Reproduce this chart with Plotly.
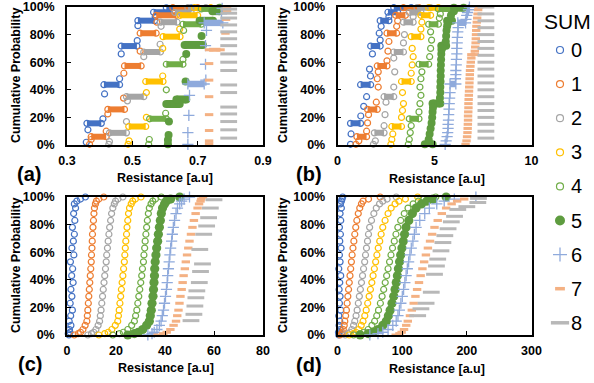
import plotly.graph_objects as go

# ---------------- data ----------------
SERIES = ["0", "1", "2", "3", "4", "5", "6", "7", "8"]

# Panel (a): isolated points (resistance, cumulative %) and flat runs [x_start, x_end, cumulative %]
A0_X = [0.359, 0.364, 0.410, 0.415, 0.461, 0.466, 0.515, 0.517, 0.570]
A0_Y = [2, 11, 19, 37, 48, 66, 75.6, 86.5, 93]
A0_RUNS = [[0.361, 0.405, 15.7], [0.413, 0.461, 43.7], [0.466, 0.514, 71.7], [0.517, 0.568, 90.1], [0.565, 0.624, 96.2], [0.604, 0.680, 99.4]]
A1_X = [0.369, 0.374, 0.420, 0.425, 0.473, 0.474, 0.524, 0.575]
A1_Y = [0.5, 4, 10, 22.5, 34, 52, 68, 89]
A1_RUNS = [[0.374, 0.420, 6.0], [0.425, 0.476, 25.8], [0.476, 0.527, 57.3], [0.524, 0.573, 81.0], [0.573, 0.635, 94.0], [0.624, 0.700, 99.5]]
A2_X = [0.428, 0.430, 0.482, 0.485, 0.535, 0.585, 0.588]
A2_Y = [0.5, 2.5, 17, 32, 64, 73, 86]
A2_RUNS = [[0.430, 0.482, 8.8], [0.482, 0.535, 35.0], [0.535, 0.586, 67.4], [0.586, 0.637, 89.0], [0.630, 0.680, 96.0], [0.670, 0.725, 99.5]]
A3_X = [0.487, 0.490, 0.543, 0.543, 0.593, 0.593, 0.645]
A3_Y = [0.5, 3, 20, 38, 50, 70, 84]
A3_RUNS = [[0.489, 0.541, 13.4], [0.541, 0.594, 46.0], [0.594, 0.646, 78.5], [0.646, 0.700, 94.0], [0.690, 0.740, 99.5]]
A4_X = [0.550, 0.552, 0.602, 0.604, 0.655, 0.657]
A4_Y = [0.5, 4, 23, 40, 62, 83]
A4_RUNS = [[0.553, 0.604, 19.0], [0.604, 0.655, 58.5], [0.655, 0.711, 87.5], [0.711, 0.767, 98.6]]
A5_X = [0.609, 0.609, 0.611, 0.612, 0.663, 0.665, 0.712, 0.767]
A5_Y = [0.5, 3.7, 7.3, 17, 46, 66, 79, 99.5]
A5_RUNS = [[0.604, 0.645, 29.7], [0.635, 0.665, 33.0], [0.660, 0.716, 72.5], [0.706, 0.747, 90.0], [0.745, 0.767, 97.0]]
A6_X = [0.670, 0.670, 0.673, 0.675, 0.725, 0.724, 0.724, 0.727, 0.773, 0.775]
A6_Y = [0.5, 9, 21.5, 36, 47, 58.5, 72, 83, 95, 99]
A6_RUNS = [[0.670, 0.720, 44.2], [0.720, 0.777, 88.5]]
A7_X = [0.735, 0.735, 0.735, 0.735, 0.735, 0.735, 0.735, 0.785, 0.787, 0.790, 0.790]
A7_Y = [1, 3, 10.5, 22, 35, 47, 59, 81, 91, 97, 100]
A7_RUNS = [[0.735, 0.770, 69.0]]
A8_X = [0.795, 0.795, 0.795, 0.795, 0.795, 0.795, 0.795, 0.795, 0.795, 0.795, 0.795, 0.795, 0.795, 0.795, 0.795, 0.795, 0.795]
A8_Y = [5, 11, 17, 22.5, 27.5, 38, 43.5, 54, 60, 66, 72, 77, 82, 87, 92, 95.5, 98.5]

# Panel (b)
B0_X = [0.67, 0.70, 1.20, 1.35, 1.50, 1.70, 1.65, 1.80, 2.20, 2.15, 2.25, 2.65]
B0_Y = [0.5, 8, 21, 28, 35, 50, 55, 66, 76, 81, 86, 93]
B0_RUNS = [[0.67, 1.19, 15.7], [1.19, 1.71, 43.7], [1.71, 2.20, 71.7], [2.20, 2.65, 90.1], [2.60, 3.10, 96.2], [2.90, 3.80, 99.5]]
B1_X = [0.95, 1.10, 1.50, 1.55, 1.60, 2.00, 2.10, 2.05, 2.10, 2.55, 2.60, 2.65, 3.05, 3.10]
B1_Y = [0.5, 3, 10, 16, 22, 31, 42, 48, 53, 61, 68, 75, 86, 90]
B1_RUNS = [[1.00, 1.50, 6.0], [1.55, 2.05, 25.8], [2.05, 2.55, 57.3], [2.55, 3.05, 81.0], [3.00, 3.50, 94.0], [3.40, 4.20, 99.5]]
B2_X = [1.85, 1.95, 2.40, 2.45, 2.50, 2.90, 2.95, 2.90, 3.40, 3.45, 3.90]
B2_Y = [0.5, 3, 14, 22, 31, 42, 53, 63, 74, 80, 93]
B2_RUNS = [[1.90, 2.40, 8.8], [2.40, 2.90, 35.0], [2.90, 3.40, 67.4], [3.40, 3.90, 89.0], [3.70, 4.30, 96.0], [4.10, 4.80, 99.5]]
B3_X = [2.75, 2.80, 2.85, 3.30, 3.35, 3.40, 3.35, 3.80, 3.85, 3.90, 3.85, 4.30, 4.35]
B3_Y = [0.5, 4, 8, 20, 25, 30, 38, 52, 58, 64, 70, 84, 89]
B3_RUNS = [[2.80, 3.30, 13.4], [3.30, 3.80, 46.0], [3.80, 4.30, 78.5], [4.30, 4.80, 94.0], [4.70, 5.20, 99.5]]
B4_X = [3.65, 3.70, 3.75, 3.80, 4.20, 4.25, 4.30, 4.25, 4.30, 4.35, 4.75, 4.80, 4.85, 4.80, 5.25, 5.30]
B4_Y = [0.5, 4, 9, 14, 24, 30, 36, 42, 48, 53, 64, 70, 76, 82, 92, 95]
B4_RUNS = [[3.70, 4.20, 19.0], [4.20, 4.70, 58.5], [4.70, 5.20, 87.5], [5.20, 5.80, 98.6]]
B5_X = [4.70, 4.75, 4.80, 4.85, 4.88, 4.90, 4.92, 5.28, 5.30, 5.30, 5.31, 5.32, 5.32, 5.33, 5.34, 5.35, 5.36, 5.38, 5.40, 5.58, 5.60, 5.62, 5.65, 5.68, 5.85, 6.00]
B5_Y = [4, 8, 12, 16, 20, 24, 27, 34, 38, 42, 46, 50, 54, 58, 62, 66, 69, 70, 71, 75, 79, 83, 86, 88, 94, 97]
B5_RUNS = [[4.50, 4.90, 0.5], [4.90, 5.30, 30.0], [5.35, 5.60, 72.0], [5.65, 5.90, 90.0], [6.00, 6.50, 99.5]]
B6_X = [5.55, 5.60, 5.65, 5.68, 5.70, 5.70, 5.72, 5.73, 5.75, 5.76, 5.78, 5.80, 6.08, 6.10, 6.10, 6.12, 6.13, 6.15, 6.15, 6.17, 6.18, 6.20, 6.22, 6.62, 6.66, 6.70, 6.75, 6.80]
B6_Y = [0.5, 3, 6, 9, 12, 15, 18, 22, 26, 30, 34, 38, 48, 51, 54, 58, 62, 66, 70, 74, 78, 82, 85, 91, 94, 96, 98, 100]
B6_RUNS = [[5.80, 6.10, 44.2], [6.20, 6.60, 88.5]]
B7_X = [6.60, 6.65, 6.68, 6.70, 6.71, 6.72, 6.73, 6.73, 6.74, 6.75, 6.75, 6.76, 6.77, 6.78, 6.79, 6.80, 6.81, 6.82, 6.83, 6.85, 6.87, 6.90, 7.08, 7.10, 7.12, 7.13, 7.14, 7.15, 7.16, 7.18, 7.20, 7.22, 7.25, 7.30]
B7_Y = [0.5, 3, 6, 9, 12, 15, 18, 21, 24, 27, 30, 33, 36, 39, 42, 45, 48, 51, 54, 57, 60, 63, 68, 71, 74, 77, 80, 83, 86, 89, 92, 95, 98, 100]
B7_RUNS = [[6.90, 7.08, 65.5]]
B8_X = [7.65, 7.65, 7.65, 7.65, 7.65, 7.65, 7.65, 7.65, 7.65, 7.65, 7.65, 7.65, 7.65, 7.65, 7.65, 7.65, 7.65, 7.65, 7.65, 7.65]
B8_Y = [5, 10, 15, 20, 25, 30, 35, 40, 45, 50, 55, 60, 65, 70, 75, 80, 85, 90, 95, 100]

# Panels (c) and (d): cumulative % levels shared by series 0-7
P_CD = [0, 1, 2, 4, 7, 10, 14, 18, 23, 28, 33, 38, 43, 48, 53, 58, 63, 68, 73, 78, 83, 88, 92, 95, 97, 98.5, 100]
C0_X = [0.8, 0.5, 1.2, 1.0, 1.6, 0.9, 1.5, 2.2, 1.3, 2.0, 1.6, 2.5, 1.9, 2.3, 1.4, 2.8, 2.0, 2.6, 3.0, 2.2, 3.2, 2.7, 3.5, 3.0, 4.0, 5.5, 7.5]
C1_X = [3.0, 4.6, 5.5, 6.5, 7.4, 8.1, 8.3, 8.5, 8.7, 8.9, 9.1, 9.3, 9.5, 9.7, 9.9, 10.0, 10.2, 10.3, 10.4, 10.6, 10.8, 11.0, 11.2, 11.6, 12.0, 13.0, 15.0]
C2_X = [8.5, 10.0, 10.9, 11.8, 12.7, 13.3, 13.6, 13.9, 14.2, 14.5, 14.8, 15.1, 15.4, 15.7, 16.0, 16.2, 16.5, 16.8, 17.1, 17.4, 17.8, 18.2, 18.7, 19.3, 19.8, 20.8, 22.8]
C3_X = [13.0, 15.4, 16.8, 18.3, 19.7, 20.7, 21.0, 21.3, 21.6, 21.9, 22.2, 22.5, 22.8, 23.1, 23.4, 23.6, 23.8, 24.0, 24.3, 24.5, 24.8, 25.1, 25.5, 26.2, 26.8, 27.9, 30.2]
C4_X = [18.7, 21.4, 23.0, 24.8, 26.4, 27.5, 28.0, 28.5, 28.9, 29.3, 29.7, 30.1, 30.5, 30.8, 31.2, 31.4, 31.7, 31.9, 32.2, 32.5, 32.8, 33.2, 33.6, 34.3, 35.0, 36.1, 38.5]
C5_X = [24.8, 27.5, 29.1, 30.9, 32.5, 33.6, 34.0, 34.4, 34.7, 35.1, 35.3, 35.5, 35.7, 35.8, 36.0, 36.3, 36.6, 37.0, 37.3, 37.7, 38.1, 38.5, 39.0, 39.8, 40.5, 42.3, 46.0]
C6_X = [33.0, 34.7, 35.6, 36.7, 37.7, 38.4, 38.9, 39.4, 39.8, 40.2, 40.6, 40.9, 41.1, 41.4, 41.7, 42.0, 42.3, 42.7, 43.0, 43.4, 43.9, 44.5, 45.1, 46.0, 46.8, 47.8, 50.0]
C7_X = [37.0, 39.3, 40.7, 42.2, 43.5, 44.5, 45.0, 45.5, 45.9, 46.3, 46.8, 47.2, 47.6, 48.1, 48.5, 49.0, 49.5, 50.0, 50.6, 51.2, 51.8, 52.5, 53.3, 53.9, 54.5, 54.8, 55.5]
C8_X = [50.6, 51.8, 52.2, 52.6, 53.0, 54.0, 54.5, 55.3, 54.2, 55.8, 57.0, 57.8, 58.5, 60.0]
C8_Y = [10.4, 15, 21, 27, 32, 38, 46, 51.5, 62, 73, 79, 85, 92, 98]

D0_X = [2.0, 3.0, 1.5, 4.0, 2.5, 3.5, 2.0, 5.0, 3.0, 4.0, 2.5, 3.5, 5.0, 2.0, 4.0, 3.0, 5.5, 3.5, 4.5, 3.0, 5.0, 4.0, 6.0, 4.5, 6.0, 7.0, 8.0]
D1_X = [4.0, 6.3, 7.6, 9.0, 10.4, 11.3, 12.6, 13.8, 14.9, 16.0, 17.1, 18.2, 19.3, 20.4, 21.5, 22.6, 23.9, 25.3, 26.7, 28.2, 29.9, 32.1, 34.4, 37.0, 39.5, 48.0, 66.0]
D2_X = [12.0, 16.6, 19.2, 22.1, 24.8, 26.7, 28.7, 30.4, 32.2, 33.8, 35.4, 37.1, 38.7, 40.3, 42.0, 43.3, 44.8, 46.4, 47.9, 49.7, 52.6, 56.2, 60.0, 65.0, 70.0, 76.7, 90.8]
D3_X = [18.0, 24.7, 28.5, 32.8, 36.7, 39.5, 42.2, 44.4, 46.7, 48.9, 50.9, 53.1, 55.0, 57.0, 59.0, 60.9, 63.0, 65.3, 67.5, 70.0, 73.6, 78.2, 83.0, 89.0, 95.0, 105.0, 124.0]
D4_X = [25.0, 35.0, 40.9, 47.4, 53.2, 57.4, 60.7, 63.4, 66.3, 69.0, 71.4, 73.8, 76.0, 78.2, 80.5, 82.7, 85.1, 87.8, 90.4, 93.3, 97.7, 103.2, 109.0, 117.0, 125.0, 133.6, 152.0]
D5_X = [35.0, 47.5, 54.8, 62.9, 70.1, 75.4, 78.7, 81.4, 84.3, 87.0, 89.0, 90.9, 92.6, 94.2, 96.0, 97.7, 99.6, 101.7, 103.7, 106.0, 110.3, 115.8, 121.5, 129.8, 138.0, 147.6, 168.0]
D6_X = [50.0, 62.6, 70.0, 78.2, 85.5, 90.8, 93.5, 95.7, 98.0, 100.2, 102.2, 104.2, 106.1, 108.0, 110.0, 112.0, 114.1, 116.6, 118.9, 121.5, 127.2, 134.9, 142.0, 153.5, 165.0, 180.7, 214.0]
D7_X = [90.0, 95.8, 99.2, 102.9, 106.3, 108.7, 112.0, 114.9, 117.8, 120.5, 123.1, 126.0, 128.6, 131.3, 134.0, 136.7, 139.8, 143.1, 146.3, 150.0, 155.0, 161.3, 168.0, 176.5, 185.0, 195.9, 219.0]
D8_X = [124, 129, 137, 145, 150, 153, 155, 160, 163, 166, 171, 176, 181, 186, 200, 217, 218]
D8_Y = [14, 19, 23, 31, 44, 50, 55, 61, 67, 72, 77, 82, 86, 91, 93, 96, 99]

X_TICKS_A = [0.3, 0.5, 0.7, 0.9]
X_TICKS_B = [0, 5, 10]
X_TICKS_C = [0, 20, 40, 60, 80]
X_TICKS_D = [0, 100, 200, 300]
Y_TICKS = [0, 20, 40, 60, 80, 100]

# ---------------- styles ----------------
W, H = 594, 383
COLORS = ["#4472C4", "#ED7D31", "#A5A5A5", "#FFC000", "#70AD47", "#5E9C3F", "#8FAADC", "#F4B183", "#B8B8B8"]
SYMBOLS = ["circle-open"] * 5 + ["circle", "cross-thin-open", "line-ew-open", "line-ew-open"]
SIZES = [6, 6, 6, 6, 6, 8, 8, 6, 12]
LINEW = [1.2, 1.2, 1.2, 1.2, 1.2, 0, 1.3, 3, 3]
RUNW = [6, 6, 6, 6, 6, 8, 6.5, 4, 3]
FONT = "Liberation Sans, Arial, sans-serif"

fig = go.Figure()


def marker(k, scale=1.0):
    c = COLORS[k]
    return dict(symbol=SYMBOLS[k], size=SIZES[k] * scale, color=c,
                line=dict(color=c, width=LINEW[k]))


def add_series(xa, ya, k, xs, ys, runs=None, scale=1.0):
    c = COLORS[k]
    if runs:
        lx, ly = [], []
        for x0, x1, yv in runs:
            lx += [x0, x1, None]
            ly += [yv, yv, None]
        fig.add_trace(go.Scatter(x=lx, y=ly, mode="lines+markers", xaxis=xa, yaxis=ya,
                                 line=dict(color=c, width=RUNW[k]), marker=marker(k, scale),
                                 showlegend=False, cliponaxis=False, hoverinfo="skip"))
    fig.add_trace(go.Scatter(x=xs, y=ys, mode="markers", xaxis=xa, yaxis=ya,
                             marker=marker(k, scale), name=SERIES[k],
                             showlegend=False, cliponaxis=False))


A_DATA = [(A0_X, A0_Y, A0_RUNS), (A1_X, A1_Y, A1_RUNS), (A2_X, A2_Y, A2_RUNS), (A3_X, A3_Y, A3_RUNS),
          (A4_X, A4_Y, A4_RUNS), (A5_X, A5_Y, A5_RUNS), (A6_X, A6_Y, A6_RUNS), (A7_X, A7_Y, A7_RUNS),
          (A8_X, A8_Y, None)]
B_DATA = [(B0_X, B0_Y, B0_RUNS), (B1_X, B1_Y, B1_RUNS), (B2_X, B2_Y, B2_RUNS), (B3_X, B3_Y, B3_RUNS),
          (B4_X, B4_Y, B4_RUNS), (B5_X, B5_Y, B5_RUNS), (B6_X, B6_Y, B6_RUNS), (B7_X, B7_Y, B7_RUNS),
          (B8_X, B8_Y, None)]
C_DATA = [(C0_X, P_CD), (C1_X, P_CD), (C2_X, P_CD), (C3_X, P_CD), (C4_X, P_CD), (C5_X, P_CD),
          (C6_X, P_CD), (C7_X, P_CD), (C8_X, C8_Y)]
D_DATA = [(D0_X, P_CD), (D1_X, P_CD), (D2_X, P_CD), (D3_X, P_CD), (D4_X, P_CD), (D5_X, P_CD),
          (D6_X, P_CD), (D7_X, P_CD), (D8_X, D8_Y)]

for k, (xs, ys, runs) in enumerate(A_DATA):
    add_series("x", "y", k, xs, ys, runs)
for k, (xs, ys, runs) in enumerate(B_DATA):
    add_series("x2", "y2", k, xs, ys, runs)
for k, (xs, ys) in enumerate(C_DATA):
    add_series("x3", "y3", k, xs, ys, None, 1.15 if k == 5 else 1.0)
for k, (xs, ys) in enumerate(D_DATA):
    add_series("x4", "y4", k, xs, ys, None, 1.15 if k == 5 else 1.0)

# legend (drawn on its own hidden axes)
LEG_MARKER_SIZES = [7, 7, 7, 7, 7, 10, 10, 7, 13]
for k in range(9):
    c = COLORS[k]
    fig.add_trace(go.Scatter(x=[20], y=[50 + 34.1 * k], xaxis="x5", yaxis="y5", mode="markers",
                             marker=dict(symbol=SYMBOLS[k], size=LEG_MARKER_SIZES[k], color=c,
                                         line=dict(color=c, width=LINEW[k] if k < 7 else 3.5)),
                             showlegend=False, hoverinfo="skip", cliponaxis=False))


def px_x(p):
    return p / W


def px_y(p):
    return 1 - p / H


def bold(s):
    return "<b>" + s + "</b>"


tickfont = dict(family=FONT, size=12.5, color="black")
common = dict(showline=True, linecolor="black", linewidth=1.5, mirror=True, ticks="inside",
              ticklen=4, tickwidth=1.2, tickcolor="black", showgrid=False, zeroline=False,
              tickfont=tickfont, automargin=False)

LEFT = [px_x(67), px_x(263)]
RIGHT = [px_x(337.5), px_x(531.5)]
TOP = [px_y(145), px_y(7)]
BOT = [px_y(335), px_y(197)]

layout_axes = {}
for i, (dom_x, dom_y, rng, tv) in enumerate([
        (LEFT, TOP, [0.3, 0.9], X_TICKS_A), (RIGHT, TOP, [0, 10], X_TICKS_B),
        (LEFT, BOT, [0, 80], X_TICKS_C), (RIGHT, BOT, [0, 300], X_TICKS_D)]):
    n = "" if i == 0 else str(i + 1)
    layout_axes["xaxis" + n] = dict(common, domain=dom_x, range=rng, tickvals=tv,
                                    ticktext=[bold("%g" % v) for v in tv], anchor="y" + n,
                                    ticklabelstandoff=3)
    layout_axes["yaxis" + n] = dict(common, domain=dom_y, range=[0, 100], tickvals=Y_TICKS,
                                    ticktext=[bold("%d%%" % v) for v in Y_TICKS], anchor="x" + n,
                                    ticklabelstandoff=8)
layout_axes["xaxis5"] = dict(domain=[px_x(540), 1], range=[0, 54], visible=False, anchor="y5")
layout_axes["yaxis5"] = dict(domain=[0, 1], range=[383, 0], visible=False, anchor="x5")

ann = []
for (tx, ty) in [(16, 76), (283, 76), (16, 266), (283, 266)]:
    ann.append(dict(text=bold("Cumulative Probability"), x=px_x(tx), y=px_y(ty), xref="paper", yref="paper",
                    textangle=-90, showarrow=False, xanchor="center", yanchor="middle",
                    font=dict(family=FONT, size=12.5, color="black")))
for (tx, ty) in [(165, 178), (437, 179), (166, 368), (437, 369)]:
    ann.append(dict(text=bold("Resistance [a.u]"), x=px_x(tx), y=px_y(ty), xref="paper", yref="paper",
                    showarrow=False, xanchor="center", yanchor="middle",
                    font=dict(family=FONT, size=12.5, color="black")))
for lab, (tx, ty) in zip(["(a)", "(b)", "(c)", "(d)"], [(29, 174), (309, 174), (30, 364), (309, 365)]):
    ann.append(dict(text=bold(lab), x=px_x(tx), y=px_y(ty), xref="paper", yref="paper",
                    showarrow=False, xanchor="center", yanchor="middle",
                    font=dict(family=FONT, size=20, color="black")))
ann.append(dict(text="SUM", x=px_x(542), y=px_y(22), xref="paper", yref="paper", showarrow=False,
                xanchor="left", yanchor="middle", font=dict(family=FONT, size=21, color="black")))
for k in range(9):
    ann.append(dict(text=SERIES[k], x=29, y=50 + 34.1 * k, xref="x5", yref="y5", showarrow=False,
                    xanchor="left", yanchor="middle", font=dict(family=FONT, size=20, color="black")))

fig.update_layout(width=W, height=H, margin=dict(l=0, r=0, t=0, b=0, autoexpand=False),
                  paper_bgcolor="white", plot_bgcolor="white", showlegend=False,
                  annotations=ann, **layout_axes)

fig.write_html("out.html", config={"displayModeBar": False},
               post_script="document.body.style.margin='0';document.body.style.overflow='hidden';")
